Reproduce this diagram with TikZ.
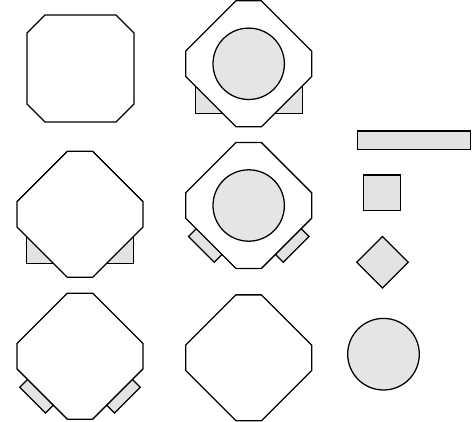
\documentclass[tikz,border=0pt]{standalone}

\begin{document}
\begin{tikzpicture}[x=0.5mm,y=-0.5mm,line width=1.8pt,line join=miter,
  oct/.style={draw,fill=white},
  pad/.style={draw,fill=gray!22},
  disc/.style={draw,fill=gray!20}]
\useasboundingbox (0,0) rectangle (472,422);
% ---------- row 1: plain body ----------
\begin{scope}[shift={(80.5,68.5)}]
  \draw[oct] (-35.5,-53.5) -- (35.5,-53.5) -- (53.5,-35.5) -- (53.5,35.5)
    -- (35.5,53.5) -- (-35.5,53.5) -- (-53.5,35.5) -- (-53.5,-35.5) -- cycle;
\end{scope}
% ---------- row 1: turned body on strip, with disc ----------
\begin{scope}[shift={(248.7,63.8)}]
  \draw[pad] (-53.5,21.5) rectangle (53.5,49.5);
  \draw[oct,rotate=45] (-35.5,-53.5) -- (35.5,-53.5) -- (53.5,-35.5) -- (53.5,35.5)
    -- (35.5,53.5) -- (-35.5,53.5) -- (-53.5,35.5) -- (-53.5,-35.5) -- cycle;
  \draw[disc] (0,0) circle (35.7);
\end{scope}
% ---------- row 2: turned body on strip ----------
\begin{scope}[shift={(80,214.3)}]
  \draw[pad] (-53.5,21.5) rectangle (53.5,49.5);
  \draw[oct,rotate=45] (-35.5,-53.5) -- (35.5,-53.5) -- (53.5,-35.5) -- (53.5,35.5)
    -- (35.5,53.5) -- (-35.5,53.5) -- (-53.5,35.5) -- (-53.5,-35.5) -- cycle;
\end{scope}
% ---------- row 2: turned body on two tabs, with disc ----------
\begin{scope}[shift={(248.7,205.5)}]
  \draw[pad,rotate=-45] (-20.7,46.5) rectangle (15.7,64.5);   % lower left
  \draw[pad,rotate=45] (-15.7,46.5) rectangle (20.7,64.5);    % lower right
  \draw[oct,rotate=45] (-35.5,-53.5) -- (35.5,-53.5) -- (53.5,-35.5) -- (53.5,35.5)
    -- (35.5,53.5) -- (-35.5,53.5) -- (-53.5,35.5) -- (-53.5,-35.5) -- cycle;
  \draw[disc] (0,0) circle (35.7);
\end{scope}
% ---------- row 3: turned body on two tabs ----------
\begin{scope}[shift={(80,356.2)}]
  \draw[pad,rotate=-45] (-20.7,46.5) rectangle (15.7,64.5);
  \draw[pad,rotate=45] (-15.7,46.5) rectangle (20.7,64.5);
  \draw[oct,rotate=45] (-35.5,-53.5) -- (35.5,-53.5) -- (53.5,-35.5) -- (53.5,35.5)
    -- (35.5,53.5) -- (-35.5,53.5) -- (-53.5,35.5) -- (-53.5,-35.5) -- cycle;
\end{scope}
% ---------- row 3: turned body alone ----------
\begin{scope}[shift={(248.7,357.8)}]
  \draw[oct,rotate=45] (-35.5,-53.5) -- (35.5,-53.5) -- (53.5,-35.5) -- (53.5,35.5)
    -- (35.5,53.5) -- (-35.5,53.5) -- (-53.5,35.5) -- (-53.5,-35.5) -- cycle;
\end{scope}
% ---------- loose parts ----------
\draw[pad] (357.7,131) rectangle (470.7,149.3);   % strip
\draw[pad] (363.7,175) rectangle (400.3,210.7);   % tab
\draw[pad] (382.5,236.5) -- (408.2,262.2) -- (382.5,287.9) -- (356.8,262.2) -- cycle;
\draw[disc] (383.5,354.2) circle (35.8);
\end{tikzpicture}
\end{document}
